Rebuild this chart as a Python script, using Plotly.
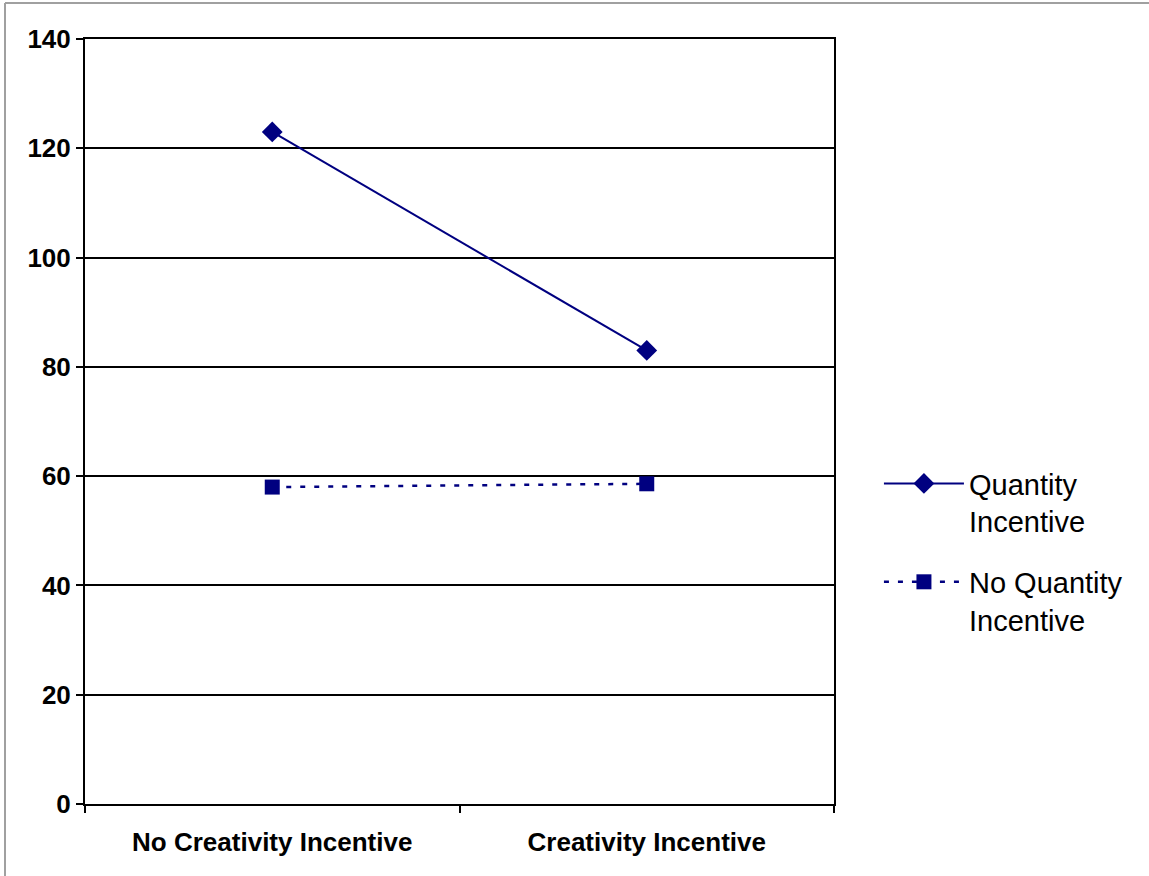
import plotly.graph_objects as go

categories = ["No Creativity Incentive", "Creativity Incentive"]
quantity_incentive = [123, 83]
no_quantity_incentive = [58, 58.6]
series_names = ["Quantity<br>Incentive", "No Quantity<br>Incentive"]
y_ticks = [0, 20, 40, 60, 80, 100, 120, 140]

W, H = 1149, 876
L, R, T, B = 85, 315, 39, 72
pw, ph = W - L - R, H - T - B

navy = "#000080"
fig = go.Figure()
fig.add_trace(go.Scatter(
    x=categories, y=quantity_incentive, name=series_names[0], mode="lines+markers",
    line=dict(color=navy, width=2), marker=dict(symbol="diamond", size=16, color=navy),
    legendgroup="a"))
fig.add_trace(go.Scatter(
    x=categories, y=no_quantity_incentive, name=series_names[1], mode="lines+markers",
    line=dict(color=navy, width=2.5, dash="5px,9px"), marker=dict(symbol="square", size=15, color=navy),
    legendgroup="b"))

tick_font = dict(size=26, family="Liberation Sans, Arial, sans-serif", weight="bold", color="black")
fig.update_layout(
    width=W, height=H,
    margin=dict(l=L, r=R, t=T, b=B),
    paper_bgcolor="white", plot_bgcolor="white",
    font=dict(family="Liberation Sans, Arial, sans-serif", color="black"),
    showlegend=True,
    legend=dict(x=1.06, xanchor="left", y=0.33, yanchor="middle", valign="top",
                font=dict(size=29), itemwidth=80, tracegroupgap=20,
                bgcolor="rgba(0,0,0,0)"),
    xaxis=dict(type="category", range=[-0.5, 1.5], tickson="boundaries",
               ticks="outside", ticklen=7, tickwidth=2, tickcolor="black",
               ticklabelstandoff=14,
               showline=True, linecolor="black", linewidth=2, mirror=True,
               showgrid=False, tickfont=tick_font),
    yaxis=dict(range=[0, 140], tickvals=y_ticks, ticks="outside", ticklen=7, tickwidth=2,
               tickcolor="black", showline=True, linecolor="black", linewidth=2, mirror=True,
               showgrid=True, gridcolor="black", gridwidth=2, zeroline=False,
               tickfont=tick_font),
    shapes=[
        dict(type="line", xref="paper", yref="paper",
             x0=(5 - L) / pw, x1=(W - L) / pw, y0=(H - B - 3) / ph, y1=(H - B - 3) / ph,
             line=dict(color="#a0a0a0", width=2)),
        dict(type="line", xref="paper", yref="paper",
             x0=(5 - L) / pw, x1=(5 - L) / pw, y0=(H - B - 3) / ph, y1=-B / ph,
             line=dict(color="#a0a0a0", width=2)),
    ],
)
fig.write_html("out.html", config={"displayModeBar": False},
               post_script="document.body.style.margin='0';document.body.style.overflow='hidden';")
